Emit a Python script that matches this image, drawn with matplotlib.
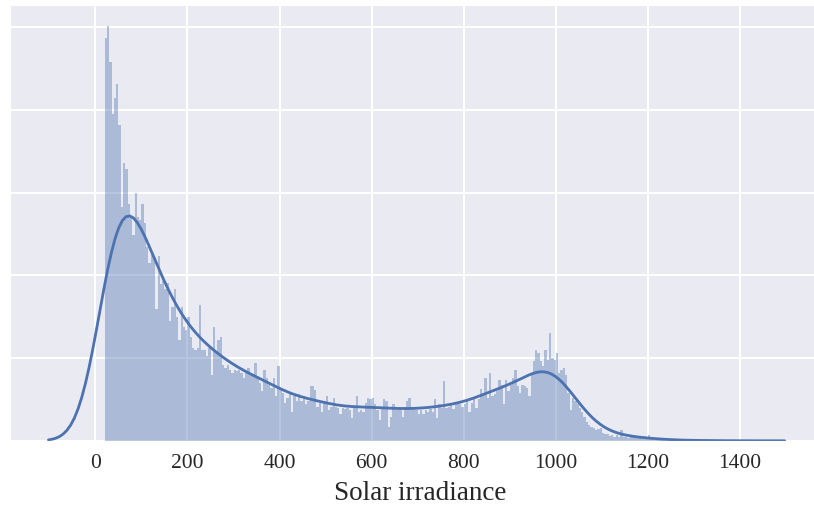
import numpy as np
import pandas as pd
import matplotlib
matplotlib.use("Agg")
import matplotlib.pyplot as plt
import seaborn as sns

# histogram: 5-unit bins starting at 20
bin_start = 20
bin_width = 5

# bar heights, in units of one gridline step
peak_heights = [4.87, 5.02, 4.58, 3.95, 4.15, 4.32, 3.82, 2.83, 3.36, 3.29,
                2.86, 2.72, 2.49, 3.00, 2.71, 2.67, 2.87, 2.63, 2.35, 2.15,
                2.27, 2.20, 1.60, 2.23, 1.90, 1.93, 1.83, 1.91, 1.45, 1.62,
                1.83, 1.50, 1.22, 1.62, 1.38, 1.34, 1.50, 1.26, 1.12, 1.10,
                1.12, 1.64]
decay_heights = [1.10, 1.10, 1.02, 1.12, 0.80, 1.38, 1.06, 1.22,
                 1.26, 0.92, 0.88, 0.92, 0.86, 0.82, 0.86, 0.84, 0.86, 0.82,
                 0.76, 0.82, 0.88, 0.80, 0.78, 0.94, 0.78, 0.70, 0.60, 0.86,
                 0.76, 0.68, 0.64, 0.76, 0.54, 0.90, 0.62, 0.58, 0.46, 0.52,
                 0.56, 0.35, 0.54, 0.48, 0.56, 0.48, 0.50, 0.44, 0.48, 0.66,
                 0.66, 0.62, 0.41, 0.46, 0.35, 0.46, 0.54, 0.37, 0.41, 0.52,
                 0.41, 0.40, 0.33, 0.40, 0.39, 0.40, 0.37, 0.27, 0.41, 0.54,
                 0.35, 0.37, 0.35, 0.46, 0.52, 0.50, 0.52, 0.44, 0.37, 0.25]
plateau_heights = [0.40, 0.50, 0.48, 0.17, 0.29, 0.44, 0.37, 0.40, 0.37, 0.29,
                   0.41, 0.48, 0.52, 0.41, 0.40, 0.37, 0.33, 0.37, 0.33, 0.37,
                   0.35, 0.38, 0.35, 0.50, 0.27, 0.44, 0.40, 0.72, 0.40, 0.41,
                   0.44, 0.38, 0.44, 0.46, 0.44, 0.41, 0.44, 0.50, 0.35, 0.46,
                   0.50, 0.40, 0.50, 0.63, 0.58, 0.76, 0.52, 0.82, 0.54, 0.56,
                   0.60, 0.74, 0.68, 0.44, 0.74, 0.60, 0.68, 0.76, 0.86, 0.66,
                   0.58, 0.68, 0.66, 0.64, 0.54, 0.82, 0.96, 1.10, 1.06, 0.96]
bump_heights = [0.90, 1.10, 0.98, 1.30, 1.00, 0.98, 1.06, 0.82, 0.86, 0.88,
                0.80, 0.58, 0.37, 0.52, 0.48, 0.44, 0.40, 0.35, 0.29, 0.23,
                0.19, 0.17, 0.15, 0.13, 0.14, 0.15, 0.09, 0.08, 0.085, 0.06,
                0.07, 0.05, 0.07, 0.05, 0.125, 0.045, 0.05, 0.03, 0.07, 0.045,
                0.03, 0.06, 0.03, 0.03, 0.02, 0.045, 0.07]
tail_heights = [0.02, 0.015, 0.02, 0.01, 0.015, 0.01, 0.012, 0.01, 0.008, 0.01,
                0.008, 0.006, 0.008, 0.006, 0.005, 0.006, 0.005, 0.004, 0.005, 0.004,
                0.003, 0.004, 0.003, 0.003, 0.002, 0.003, 0.002, 0.002, 0.002, 0.002,
                0.001, 0.002, 0.001, 0.001]

x_ticks = [0, 200, 400, 600, 800, 1000, 1200, 1400]
kde_bandwidth = 43

heights = np.array(peak_heights + decay_heights + plateau_heights
                   + bump_heights + tail_heights)
edges = bin_start + bin_width * np.arange(len(heights) + 1)
centers = edges[:-1] + bin_width / 2
df = pd.DataFrame({"irradiance": centers, "weight": heights})

# weighted spread, so the kde bandwidth comes out in data units
mean = np.average(centers, weights=heights)
std = np.sqrt(np.average((centers - mean) ** 2, weights=heights))

sns.set_style("darkgrid")
plt.rcParams['font.family'] = ['Liberation Serif', 'DejaVu Serif']

fig = plt.figure(figsize=(8.14, 5.09), dpi=100)
# the plot area runs a little past the right edge of the image
ax = fig.add_axes([0.012, 0.134, 1.0074, 0.856])

sns.histplot(data=df, x="irradiance", weights="weight", bins=list(edges),
             stat="density", kde=True, color="#4C72B0", alpha=0.4,
             linewidth=0,
             kde_kws={"bw_method": kde_bandwidth / std, "cut": 2.5},
             line_kws={"linewidth": 2}, ax=ax)

area = heights.sum() * bin_width
ax.set_ylim(0, 5.27 / area)
ax.set_yticks(np.arange(6) / area)
ax.set_yticklabels([])
ax.set_ylabel("")
ax.grid(True, linewidth=1.5)

ax.set_xlim(-186, 1595)
ax.set_xticks(x_ticks)
ax.tick_params(axis="x", labelsize=15.5, pad=6)
ax.set_xlabel("Solar irradiance", fontsize=19.5, labelpad=6)

fig.savefig("out.png", dpi=100)
